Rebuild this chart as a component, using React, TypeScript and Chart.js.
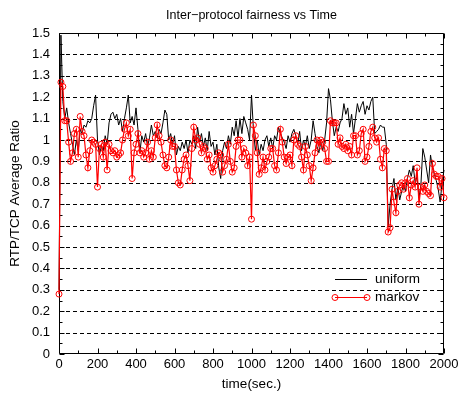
import React, { useEffect, useRef } from "react";
import { Chart, registerables } from "chart.js";

Chart.register(...registerables);

const TITLE = "Inter\u2212protocol fairness vs Time";
const X_TITLE = "time(sec.)";
const Y_TITLE = "RTP/TCP Average Ratio";
const SERIES_NAMES = ["uniform", "markov"];
const TIME_STEP = 10; // seconds between samples

const uniform = [
  0.30, 1.49, 1.18, 1.10, 1.15, 1.08, 1.03, 0.98, 0.93, 1.00,
  0.95, 1.05, 1.03, 1.07, 1.06, 1.09, 1.08, 1.10, 1.16, 1.21,
  1.00, 0.93, 0.97, 0.95, 1.02, 0.98, 1.08, 1.12, 1.13, 1.10,
  1.12, 1.07, 1.10, 1.04, 1.10, 1.15, 1.21, 1.08, 1.11, 1.07,
  1.15, 1.05, 0.94, 1.02, 0.99, 1.03, 0.97, 1.01, 1.07, 1.02,
  1.04, 1.01, 1.05, 1.03, 1.08, 1.14, 1.12, 1.00, 1.03, 0.98,
  1.02, 0.93, 0.97, 0.95, 0.99, 0.96, 1.00, 0.94, 1.00, 0.98,
  1.02, 0.96, 1.06, 0.99, 1.03, 0.97, 1.01, 0.95, 1.04, 0.97,
  0.99, 0.93, 0.98, 0.87, 0.82, 0.95, 0.99, 0.96, 1.02, 0.98,
  1.06, 1.02, 1.09, 1.01, 1.10, 1.03, 1.11, 1.08, 1.05, 1.00,
  1.21, 1.05, 0.95, 1.00, 0.93, 0.98, 0.95, 1.00, 1.02, 0.97,
  1.01, 0.96, 1.02, 1.00, 1.06, 1.03, 1.01, 0.99, 0.96, 1.02,
  0.99, 1.03, 1.05, 1.02, 0.98, 1.04, 0.95, 1.00, 0.97, 1.02,
  0.96, 1.00, 1.09, 1.03, 0.97, 0.94, 0.99, 0.95, 1.00, 1.08,
  1.24, 1.19, 1.09, 1.02, 1.06, 1.04, 1.08, 1.10, 1.17, 1.12,
  1.15, 1.06, 1.12, 1.03, 1.10, 1.17, 1.13, 1.16, 1.18, 1.12,
  1.16, 1.14, 1.18, 1.20, 1.03, 1.04, 1.05, 1.07, 1.06, 1.06,
  0.98, 0.60, 0.70, 0.77, 0.82, 0.72, 0.78, 0.72, 0.76, 0.79,
  0.76, 0.82, 0.86, 0.83, 0.88, 0.80, 0.83, 0.73, 0.79, 0.96,
  0.92, 0.86, 0.80, 0.93, 0.87, 0.84, 0.81, 0.77, 0.71, 0.80,
  0.86,
];

const markov = [
  0.28, 1.27, 1.25, 1.09, 1.09, 0.99, 0.90, 0.94, 1.03, 1.05,
  0.92, 1.11, 1.04, 1.02, 0.93, 0.87, 0.95, 1.00, 0.99, 0.98,
  0.78, 0.96, 0.98, 0.92, 0.99, 0.86, 0.98, 0.95, 0.94, 0.95,
  0.92, 0.93, 0.94, 1.00, 1.05, 1.08, 1.02, 1.05, 0.82, 0.94,
  0.98, 1.03, 0.94, 0.95, 0.92, 0.94, 0.99, 0.91, 0.95, 0.92,
  1.01, 1.07, 1.02, 0.99, 0.93, 0.88, 0.87, 0.92, 1.00, 0.97,
  0.97, 0.86, 0.80, 0.79, 0.86, 0.91, 0.93, 0.88, 0.81, 0.96,
  1.06, 1.00, 1.01, 0.98, 0.94, 0.97, 0.96, 0.91, 0.93, 0.87,
  0.85, 0.88, 0.91, 0.94, 0.93, 0.85, 0.88, 0.91, 0.98, 0.90,
  0.85, 0.87, 0.97, 1.00, 1.00, 0.92, 0.96, 0.94, 0.88, 0.92,
  0.63, 1.07, 1.02, 0.94, 0.84, 0.87, 0.92, 0.86, 0.90, 0.92,
  0.96, 0.96, 0.88, 0.86, 0.94, 1.05, 0.99, 0.92, 0.89, 0.92,
  0.93, 0.88, 1.00, 1.02, 0.98, 0.97, 0.92, 0.86, 0.97, 0.93,
  0.88, 0.81, 0.87, 0.94, 1.00, 0.97, 1.00, 0.99, 0.96, 0.90,
  0.90, 1.09, 1.08, 1.08, 1.08, 0.98, 1.01, 0.97, 0.96, 0.98,
  0.95, 0.97, 0.93, 1.02, 1.02, 0.93, 0.95, 1.03, 1.05, 0.90,
  0.92, 0.97, 1.04, 1.06, 1.01, 0.99, 1.01, 0.91, 0.87, 0.96,
  0.95, 0.57, 0.59, 0.77, 0.71, 0.66, 0.76, 0.79, 0.80, 0.77,
  0.80, 0.82, 0.73, 0.79, 0.81, 0.78, 0.87, 0.70, 0.78, 0.76,
  0.79, 0.76, 0.75, 0.74, 0.89, 0.84, 0.83, 0.83, 0.78, 0.82,
  0.73,
];

const times = uniform.map((_, i) => i * TIME_STEP);

const FONT = '"Liberation Sans", Arial, Helvetica, sans-serif';
const RED = "#ff0000";

const framePlugin = {
  id: "frame",
  beforeDatasetsDraw(chart: any) {
    const { ctx, chartArea, scales } = chart;
    const { left, right, top, bottom } = chartArea;
    const x = scales.x;
    const y = scales.y;
    ctx.save();
    ctx.strokeStyle = "#000";
    ctx.lineWidth = 1;
    // dashed horizontal grid
    ctx.setLineDash([4, 3]);
    const yTicks = y.ticks.map((t: any) => t.value);
    yTicks
      .filter((v: number) => v > y.min + 1e-9 && v < y.max - 1e-9)
      .forEach((v: number) => {
        const py = Math.round(y.getPixelForValue(v)) + 0.5;
        ctx.beginPath();
        ctx.moveTo(left, py);
        ctx.lineTo(right, py);
        ctx.stroke();
      });
    ctx.setLineDash([]);
    // border
    const L = Math.round(left) + 0.5;
    const R = Math.round(right) - 0.5;
    const T = Math.round(top) + 0.5;
    const B = Math.round(bottom) - 0.5;
    ctx.beginPath();
    ctx.rect(L, T, R - L, B - T);
    ctx.stroke();
    // inward ticks: x major + minor
    const xTicks = x.ticks.map((t: any) => t.value);
    const xMarks: [number, number][] = [];
    xTicks.forEach((v: number, i: number) => {
      xMarks.push([v, 5]);
      if (i < xTicks.length - 1) xMarks.push([(v + xTicks[i + 1]) / 2, 3]);
    });
    xMarks.forEach(([v, len]) => {
      const px = Math.round(x.getPixelForValue(v)) + 0.5;
      ctx.beginPath();
      ctx.moveTo(px, B);
      ctx.lineTo(px, B - len);
      ctx.moveTo(px, T);
      ctx.lineTo(px, T + len);
      ctx.stroke();
    });
    const yMarks: [number, number][] = [];
    yTicks.forEach((v: number, i: number) => {
      yMarks.push([v, 5]);
      if (i < yTicks.length - 1) yMarks.push([(v + yTicks[i + 1]) / 2, 3]);
    });
    yMarks.forEach(([v, len]) => {
      const py = Math.round(y.getPixelForValue(v)) + 0.5;
      ctx.beginPath();
      ctx.moveTo(L, py);
      ctx.lineTo(L + len, py);
      ctx.moveTo(R, py);
      ctx.lineTo(R - len, py);
      ctx.stroke();
    });
    ctx.restore();
  },
  afterDraw(chart: any) {
    const { ctx, chartArea } = chart;
    const { left, right, top, bottom } = chartArea;
    ctx.save();
    ctx.fillStyle = "#000";
    ctx.textBaseline = "middle";
    // title
    ctx.font = `12.5px ${FONT}`;
    ctx.textAlign = "center";
    ctx.fillText(TITLE, (left + right) / 2, 16);
    // x title
    ctx.font = `13.5px ${FONT}`;
    ctx.fillText(X_TITLE, (left + right) / 2, 384);
    // y title
    ctx.save();
    ctx.translate(15, (top + bottom) / 2);
    ctx.rotate(-Math.PI / 2);
    ctx.fillText(Y_TITLE, 0, 0);
    ctx.restore();
    // legend
    const lx0 = right - 109;
    const lx1 = right - 77;
    const ly0 = bottom - 75;
    const ly1 = bottom - 57;
    ctx.textAlign = "left";
    ctx.strokeStyle = "#000";
    ctx.lineWidth = 1;
    ctx.beginPath();
    ctx.moveTo(lx0, ly0 + 0.5);
    ctx.lineTo(lx1, ly0 + 0.5);
    ctx.stroke();
    ctx.fillText(SERIES_NAMES[0], right - 69, ly0);
    ctx.strokeStyle = RED;
    ctx.beginPath();
    ctx.moveTo(lx0, ly1 + 0.5);
    ctx.lineTo(lx1, ly1 + 0.5);
    ctx.stroke();
    [lx0, lx1].forEach((px) => {
      ctx.beginPath();
      ctx.arc(px, ly1 + 0.5, 3, 0, Math.PI * 2);
      ctx.stroke();
    });
    ctx.fillText(SERIES_NAMES[1], right - 69, ly1);
    ctx.restore();
  },
};

export default function App() {
  const canvasRef = useRef<HTMLCanvasElement | null>(null);

  useEffect(() => {
    const canvas = canvasRef.current;
    if (!canvas) return;
    const chart = new Chart(canvas, {
      type: "line",
      data: {
        datasets: [
          {
            label: SERIES_NAMES[0],
            data: times.map((t, i) => ({ x: t, y: uniform[i] })),
            borderColor: "#000",
            borderWidth: 1,
            pointRadius: 0,
            tension: 0,
            fill: false,
            order: 2,
            clip: 4,
          },
          {
            label: SERIES_NAMES[1],
            data: times.map((t, i) => ({ x: t, y: markov[i] })),
            borderColor: RED,
            borderWidth: 1.2,
            pointRadius: 3,
            pointBorderWidth: 1,
            pointBorderColor: RED,
            pointBackgroundColor: "rgba(0,0,0,0)",
            tension: 0,
            fill: false,
            order: 1,
            clip: 4,
          },
        ],
      },
      options: {
        animation: false,
        responsive: false,
        devicePixelRatio: 1,
        layout: { padding: { top: 33, right: 21, left: 0, bottom: 0 } },
        plugins: {
          legend: { display: false },
          title: { display: false },
          tooltip: { enabled: false },
        },
        scales: {
          x: {
            type: "linear",
            min: 0,
            max: 2000,
            grid: { display: false, drawTicks: false },
            border: { display: false },
            ticks: {
              stepSize: 200,
              color: "#000",
              font: { family: FONT, size: 13 },
              padding: 3,
              maxRotation: 0,
              autoSkip: false,
              callback: (v: any) => String(Math.round(Number(v))),
            },
            afterFit: (scale: any) => {
              scale.height = 49;
            },
          },
          y: {
            type: "linear",
            min: 0,
            max: 1.5,
            grid: { display: false, drawTicks: false },
            border: { display: false },
            ticks: {
              stepSize: 0.1,
              color: "#000",
              font: { family: FONT, size: 13 },
              padding: 9,
              autoSkip: false,
              callback: (v: any) => Number(v).toFixed(1).replace(/\.0$/, ""),
            },
            afterFit: (scale: any) => {
              scale.width = 59;
            },
          },
        },
      },
      plugins: [framePlugin],
    });
    return () => chart.destroy();
  }, []);

  return (
    <div style={{ position: "absolute", left: 0, top: 0, width: 465, height: 403, background: "#fff" }}>
      <canvas ref={canvasRef} width={465} height={403} style={{ display: "block" }} />
    </div>
  );
}
